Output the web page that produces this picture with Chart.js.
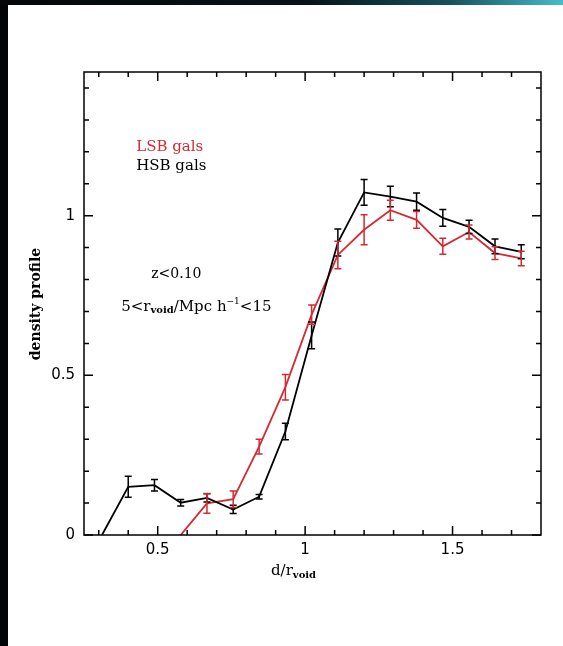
<!DOCTYPE html>
<html>
<head>
<meta charset="utf-8">
<script src="https://cdn.jsdelivr.net/npm/chart.js@4.4.1/dist/chart.umd.min.js"></script>
<style>
  html, body { margin: 0; padding: 0; background: #030405; }
  canvas { display: block; }
</style>
</head>
<body>
<canvas id="profile" width="563" height="646"></canvas>
<script>
// void density profile, LSB vs HSB galaxies
var binCentres = [0.311, 0.400, 0.489, 0.578, 0.667, 0.756, 0.844, 0.933, 1.022,
                  1.111, 1.200, 1.289, 1.378, 1.467, 1.556, 1.644, 1.733];

var hsbDensity = [0, 0.151, 0.156, 0.101, 0.116, 0.080, 0.120, 0.324, 0.625,
                  0.916, 1.073, 1.060, 1.044, 0.993, 0.965, 0.904, 0.887];
var hsbError   = [0, 0.033, 0.018, 0.010, 0.013, 0.013, 0.007, 0.026, 0.042,
                  0.042, 0.040, 0.032, 0.027, 0.026, 0.021, 0.023, 0.022];

var lsbDensity = [null, null, null, 0, 0.099, 0.112, 0.277, 0.463, 0.690,
                  0.877, 0.956, 1.017, 0.987, 0.904, 0.949, 0.883, 0.866];
var lsbError   = [null, null, null, 0, 0.031, 0.026, 0.023, 0.040, 0.030,
                  0.043, 0.047, 0.031, 0.026, 0.025, 0.022, 0.020, 0.023];

var xMajorTicks = [0.5, 1, 1.5];
var xMinorTicks = [0.3, 0.4, 0.6, 0.7, 0.8, 0.9, 1.1, 1.2, 1.3, 1.4, 1.6, 1.7];
var yMajorTicks = [0, 0.5, 1];
var yMinorTicks = [0.1, 0.2, 0.3, 0.4, 0.6, 0.7, 0.8, 0.9, 1.1, 1.2, 1.3, 1.4];

var RED = '#d42a33';
var SERIF = '"DejaVu Serif", "Liberation Serif", serif';
var SANS = '"DejaVu Sans", "Liberation Sans", sans-serif';

function points(ys, errs) {
  var out = [];
  for (var i = 0; i < binCentres.length; i++) {
    if (ys[i] === null) continue;
    out.push({ x: binCentres[i], y: ys[i], err: errs[i] });
  }
  return out;
}

// draws text pieces left to right, some of them sub/superscripted
function richText(ctx, parts, x, y) {
  ctx.textBaseline = 'middle';
  ctx.textAlign = 'left';
  parts.forEach(function (p) {
    ctx.font = (p.weight || '') + ' ' + p.size + 'px ' + SERIF;
    ctx.fillText(p.t, x, y + (p.dy || 0));
    x += ctx.measureText(p.t).width;
  });
}

var framePlugin = {
  id: 'frame',
  beforeDraw: function (chart) {
    var ctx = chart.ctx;
    ctx.save();
    ctx.fillStyle = '#030405';
    ctx.fillRect(0, 0, chart.width, chart.height);
    var g = ctx.createLinearGradient(0, 0, chart.width, 0);
    g.addColorStop(0, '#050607');
    g.addColorStop(0.55, '#061417');
    g.addColorStop(0.8, '#16525d');
    g.addColorStop(1, '#45bccc');
    ctx.fillStyle = g;
    ctx.fillRect(0, 0, chart.width, 5);
    ctx.fillStyle = '#ffffff';
    ctx.fillRect(8, 5, chart.width - 8, chart.height - 5);
    ctx.restore();
  },
  afterDatasetsDraw: function (chart) {
    var ctx = chart.ctx;
    var xs = chart.scales.x, ys = chart.scales.y;
    ctx.save();
    ctx.lineWidth = 1.5;
    chart.data.datasets.forEach(function (ds) {
      ctx.strokeStyle = ds.borderColor;
      ds.data.forEach(function (p) {
        if (!p.err) return;
        var px = xs.getPixelForValue(p.x);
        var top = ys.getPixelForValue(p.y + p.err);
        var bot = ys.getPixelForValue(p.y - p.err);
        ctx.beginPath();
        ctx.moveTo(px, top); ctx.lineTo(px, bot);
        ctx.moveTo(px - 3.5, top); ctx.lineTo(px + 3.5, top);
        ctx.moveTo(px - 3.5, bot); ctx.lineTo(px + 3.5, bot);
        ctx.stroke();
      });
    });
    ctx.restore();
  },
  afterDraw: function (chart) {
    var ctx = chart.ctx;
    var a = chart.chartArea;
    var xs = chart.scales.x, ys = chart.scales.y;
    ctx.save();
    ctx.strokeStyle = '#000';
    ctx.lineWidth = 1.5;
    ctx.strokeRect(a.left, a.top, a.right - a.left, a.bottom - a.top);

    ctx.beginPath();
    function xt(v, len) {
      var px = xs.getPixelForValue(v);
      ctx.moveTo(px, a.bottom); ctx.lineTo(px, a.bottom - len);
      ctx.moveTo(px, a.top); ctx.lineTo(px, a.top + len);
    }
    function yt(v, len) {
      var py = ys.getPixelForValue(v);
      ctx.moveTo(a.left, py); ctx.lineTo(a.left + len, py);
      ctx.moveTo(a.right, py); ctx.lineTo(a.right - len, py);
    }
    xMajorTicks.forEach(function (v) { xt(v, 9); });
    xMinorTicks.forEach(function (v) { xt(v, 5); });
    yMajorTicks.forEach(function (v) { yt(v, 9); });
    yMinorTicks.forEach(function (v) { yt(v, 5); });
    ctx.stroke();

    // axis titles
    ctx.fillStyle = '#000';
    richText(ctx, [
      { t: 'd/r', size: 15 },
      { t: 'void', size: 10, dy: 4, weight: 'bold' }
    ], 271, 571);

    ctx.save();
    ctx.translate(36, 304);
    ctx.rotate(-Math.PI / 2);
    ctx.textAlign = 'center';
    ctx.textBaseline = 'middle';
    ctx.font = 'bold 14px ' + SERIF;
    ctx.fillText('density profile', 0, 0);
    ctx.restore();

    // annotations
    var lx = xs.getPixelForValue(0.427);
    ctx.fillStyle = RED;
    richText(ctx, [{ t: 'LSB gals', size: 15 }], lx, ys.getPixelForValue(1.216));
    ctx.fillStyle = '#000';
    richText(ctx, [{ t: 'HSB gals', size: 15 }], lx, ys.getPixelForValue(1.154));
    richText(ctx, [{ t: 'z<0.10', size: 14 }],
      xs.getPixelForValue(0.478), ys.getPixelForValue(0.815));
    richText(ctx, [
      { t: '5<r', size: 15 },
      { t: 'void', size: 10, dy: 4, weight: 'bold' },
      { t: '/Mpc h', size: 15 },
      { t: '\u22121', size: 9, dy: -5 },
      { t: '<15', size: 15 }
    ], xs.getPixelForValue(0.376), ys.getPixelForValue(0.715));
    ctx.restore();
  }
};

new Chart(document.getElementById('profile'), {
  type: 'scatter',
  data: {
    datasets: [{
      label: 'HSB gals',
      data: points(hsbDensity, hsbError),
      showLine: true,
      borderColor: '#000',
      borderWidth: 1.8,
      pointRadius: 0,
      tension: 0
    }, {
      label: 'LSB gals',
      data: points(lsbDensity, lsbError),
      showLine: true,
      borderColor: RED,
      borderWidth: 1.8,
      pointRadius: 0,
      tension: 0
    }]
  },
  options: {
    responsive: false,
    animation: false,
    devicePixelRatio: 1,
    layout: { padding: { left: 0, top: 72, right: 22, bottom: 0 } },
    plugins: { legend: { display: false }, tooltip: { enabled: false } },
    scales: {
      x: {
        type: 'linear',
        min: 0.25,
        max: 1.8,
        grid: { display: false, drawTicks: false },
        border: { display: false },
        afterBuildTicks: function (s) {
          s.ticks = xMajorTicks.map(function (v) { return { value: v }; });
        },
        afterFit: function (s) { s.height = 111; },
        ticks: {
          padding: 6,
          color: '#000',
          font: { family: SANS, size: 15 },
          maxRotation: 0,
          callback: function (v) { return String(v); }
        }
      },
      y: {
        min: 0,
        max: 1.45,
        grid: { display: false, drawTicks: false },
        border: { display: false },
        afterBuildTicks: function (s) {
          s.ticks = yMajorTicks.map(function (v) { return { value: v }; });
        },
        afterFit: function (s) { s.width = 84; },
        ticks: {
          padding: 9,
          color: '#000',
          font: { family: SANS, size: 15 },
          callback: function (v) { return String(v); }
        }
      }
    }
  },
  plugins: [framePlugin]
});
</script>
</body>
</html>
